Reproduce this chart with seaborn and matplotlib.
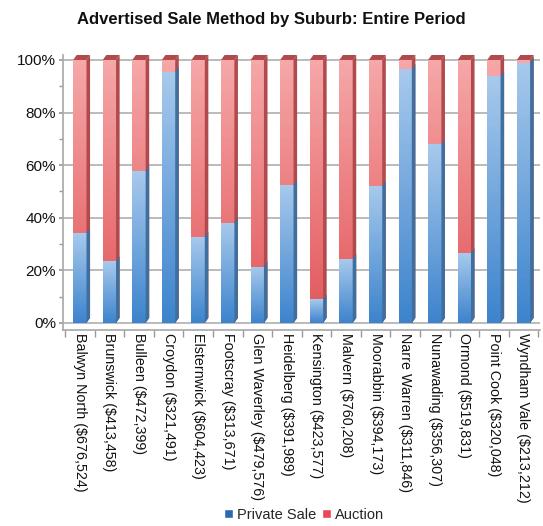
import numpy as np
import pandas as pd
import matplotlib
matplotlib.use("Agg")
import matplotlib.pyplot as plt
import seaborn as sns
from matplotlib.patches import Polygon, Patch
from matplotlib.colors import LinearSegmentedColormap
from matplotlib.ticker import FixedLocator

suburbs = ["Balwyn North ($676,524)", "Brunswick ($413,458)", "Bulleen ($472,399)",
           "Croydon ($321,491)", "Elsternwick ($604,423)", "Footscray ($313,671)",
           "Glen Waverley ($479,576)", "Heidelberg ($391,989)", "Kensington ($423,577)",
           "Malvern ($760,208)", "Moorabbin ($394,173)", "Narre Warren ($311,846)",
           "Nunawading ($356,307)", "Ormond ($519,831)", "Point Cook ($320,048)",
           "Wyndham Vale ($213,212)"]
private_sale = [34.2, 23.4, 57.8, 95.6, 32.8, 38.1, 21.4, 52.5, 9.0, 24.3, 52.2, 96.6, 67.9, 26.5, 93.9, 99.0]
auction = [65.8, 76.6, 42.2, 4.4, 67.2, 61.9, 78.6, 47.5, 91.0, 75.7, 47.8, 3.4, 32.1, 73.5, 6.1, 1.0]
series_names = ["Private Sale", "Auction"]
y_ticks = [0, 20, 40, 60, 80, 100]
y_tick_labels = ["0%", "20%", "40%", "60%", "80%", "100%"]
title = "Advertised Sale Method by Suburb: Entire Period"

blue_top, blue_bot, blue_side = "#a7c9ec", "#3d84cd", "#3f6f9f"
red_top, red_bot, red_side = "#f6a7a8", "#e2575a", "#b04a4c"
legend_blue, legend_red = "#2a68b0", "#e8475a"

sns.set_theme(style="white")
plt.rcParams['font.family'] = ['Liberation Sans', 'DejaVu Sans']

df = pd.DataFrame({"suburb": suburbs, "private": private_sale, "auction": auction})
df["total"] = df["private"] + df["auction"]

fig = plt.figure(figsize=(5.43, 5.26), dpi=100)
ax = fig.add_axes([0.116, 0.3726, 0.878, 0.5234])

sns.barplot(data=df, x="suburb", y="total", color=red_bot, width=0.45, saturation=1, ax=ax, zorder=3)
sns.barplot(data=df, x="suburb", y="private", color=blue_bot, width=0.45, saturation=1, ax=ax, zorder=4)

xlim = (-0.57, 15.55)
ylim = (-2.7, 102)
dx, dy = 0.12, 1.9

patches = list(ax.patches)
n = len(suburbs)
grad = np.linspace(1, 0, 64).reshape(-1, 1)
specs = [(patches[:n], red_top, red_bot, red_side, 3, True), (patches[n:], blue_top, blue_bot, blue_side, 4, False)]
for group, ctop, cbot, cside, z, cap in specs:
    cmap = LinearSegmentedColormap.from_list("g", [cbot, ctop])
    for p in group:
        x, y = p.get_x(), p.get_y()
        w, h = p.get_width(), p.get_height()
        p.set_edgecolor("none")
        im = ax.imshow(grad, cmap=cmap, aspect="auto", extent=(x, x + w, y, y + h),
                       zorder=z + 0.1, origin="upper")
        im.set_clip_path(p)
        side = Polygon([(x + w, y), (x + w + dx, y + dy), (x + w + dx, y + h + dy), (x + w, y + h)],
                       closed=True, facecolor=cside, edgecolor="none", zorder=z + 0.2)
        ax.add_patch(side)
        if cap:
            top = Polygon([(x, y + h), (x + dx, y + h + dy), (x + w + dx, y + h + dy), (x + w, y + h)],
                          closed=True, facecolor=cside, edgecolor="none", zorder=z + 0.2)
            ax.add_patch(top)

ax.set_xlim(*xlim)
ax.set_ylim(*ylim)

ax.set_yticks(y_ticks)
ax.set_yticklabels(y_tick_labels, fontsize=11, color="#111111")
ax.yaxis.set_minor_locator(FixedLocator([10, 30, 50, 70, 90]))
ax.tick_params(axis="y", which="major", length=3, color="#999999", left=True, pad=2)
ax.tick_params(axis="y", which="minor", length=3, color="#999999", left=True)
for yv in y_ticks:
    ax.axhline(yv, color="#b5b5b5", lw=1.3, zorder=1)

ax.set_xticks(range(n))
ax.set_xticklabels(suburbs, rotation=270, fontsize=10.3, color="#111111", va="top", ha="center")
ax.xaxis.set_minor_locator(FixedLocator(np.arange(-0.5, n, 1.0)))
ax.tick_params(axis="x", which="major", length=0, pad=2)
ax.tick_params(axis="x", which="minor", length=5, color="#999999", bottom=True)

for s in ["top", "right"]:
    ax.spines[s].set_visible(False)
ax.spines["left"].set_color("#aaaaaa")
ax.spines["bottom"].set_color("#aaaaaa")
ax.set_xlabel("")
ax.set_ylabel("")

fig.text(0.5, 0.962, title, ha="center", va="center", fontsize=12, fontweight="bold", color="#111111")

handles = [Patch(facecolor=legend_blue, label=series_names[0]),
           Patch(facecolor=legend_red, label=series_names[1])]
fig.legend(handles=handles, loc="center", bbox_to_anchor=(0.56, 0.021), ncol=2, frameon=False,
           fontsize=10.5, handlelength=0.6, handleheight=0.6, handletextpad=0.3, columnspacing=0.4,
           borderaxespad=0, borderpad=0)

fig.savefig("out.png", dpi=100)
